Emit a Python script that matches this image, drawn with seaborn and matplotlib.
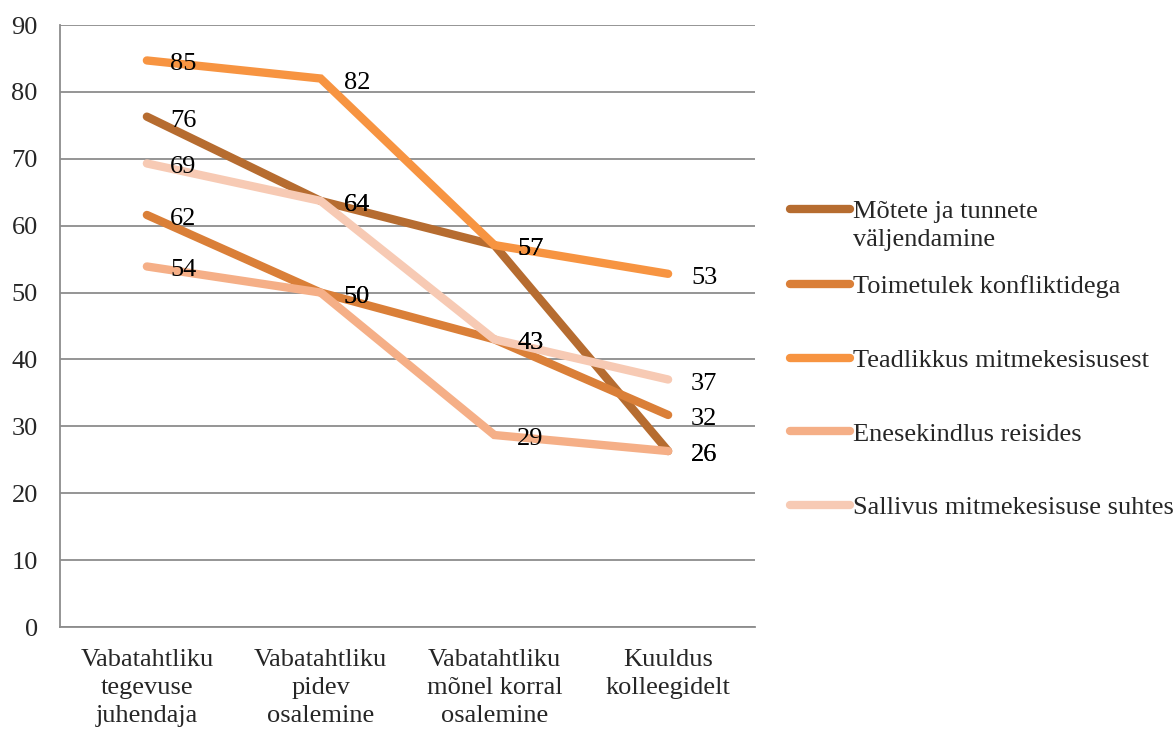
import matplotlib
matplotlib.use("Agg")
import matplotlib.pyplot as plt
import seaborn as sns
import pandas as pd
from matplotlib.transforms import offset_copy
from matplotlib.lines import Line2D
from matplotlib.legend_handler import HandlerLine2D

categories = ["Vabatahtliku\ntegevuse\njuhendaja", "Vabatahtliku\npidev\nosalemine",
              "Vabatahtliku\nmõnel korral\nosalemine", "Kuuldus\nkolleegidelt"]
series_names = ["Mõtete ja tunnete\nväljendamine", "Toimetulek konfliktidega",
                "Teadlikkus mitmekesisusest", "Enesekindlus reisides",
                "Sallivus mitmekesisuse suhtes"]
motete = [76.3, 63.7, 57.1, 26.3]
toimetulek = [61.6, 50.0, 43.0, 31.7]
teadlikkus = [84.7, 82.0, 57.1, 52.8]
enesekindlus = [53.9, 50.0, 28.7, 26.3]
sallivus = [69.3, 63.7, 43.0, 37.0]
colors = ["#B66C30", "#DA7F38", "#F79441", "#F5AF87", "#F7CAB4"]

values = [motete, toimetulek, teadlikkus, enesekindlus, sallivus]
rows = []
for name, vals in zip(series_names, values):
    for i, v in enumerate(vals):
        rows.append({"x": i, "value": v, "series": name})
df = pd.DataFrame(rows)

sns.set_style("white")
plt.rcParams["font.family"] = ["Liberation Serif", "DejaVu Serif"]
FS = 19
LW = 6

fig = plt.figure(figsize=(11.76, 7.31), dpi=100)
ax = fig.add_axes([60/1176, 1-627/731, 695/1176, 602/731])

palette = dict(zip(series_names, colors))
sns.lineplot(data=df, x="x", y="value", hue="series", palette=palette,
             hue_order=series_names, linewidth=LW, ax=ax, legend=False,
             solid_capstyle="round", solid_joinstyle="miter")

trans = offset_copy(ax.transData, fig=fig, x=23, y=-4, units="dots")
for vals in values:
    for i, v in enumerate(vals):
        ax.text(i, v, f"{v:.0f}", transform=trans, ha="left", va="center",
                fontsize=FS, color="black")

ax.set_xlim(-0.5, 3.5)
ax.set_ylim(0, 90)
ax.set_yticks(range(0, 91, 10))
ax.yaxis.grid(True, color="#8c8c8c", linewidth=1.3)
ax.set_axisbelow(True)
ax.set_xticks([0, 1, 2, 3])
ax.set_xticklabels(categories, fontsize=FS, linespacing=1.36)
ax.set_xticks([-0.5, 0.5, 1.5, 2.5, 3.5], minor=True)
ax.tick_params(axis="x", which="major", length=0, pad=16)
ax.tick_params(axis="x", which="minor", length=5, color="#8c8c8c", width=1.3, direction="out")
ax.tick_params(axis="y", length=5, color="#8c8c8c", width=1.3, labelsize=FS, pad=11)
ax.set_xlabel("")
ax.set_ylabel("")
for s in ["top", "right"]:
    ax.spines[s].set_visible(False)
for s in ["left", "bottom"]:
    ax.spines[s].set_color("#8c8c8c")
    ax.spines[s].set_linewidth(1.3)


class ShiftedLine(HandlerLine2D):
    def __init__(self, dy=0, **kw):
        super().__init__(**kw)
        self.dy = dy

    def create_artists(self, legend, orig_handle, xdescent, ydescent, width, height, fontsize, trans):
        return super().create_artists(legend, orig_handle, xdescent, ydescent - 2 * self.dy,
                                      width, height, fontsize, trans)


handles = [Line2D([], [], color=c, linewidth=LW, solid_capstyle="round") for c in colors]
common = dict(loc="upper left", frameon=False, fontsize=FS, handlelength=2.27,
              handletextpad=0.12, borderpad=0, borderaxespad=0)
legA = fig.legend(handles[:1], series_names[:1], bbox_to_anchor=(790/1176, 1-201/731),
                  handler_map={handles[0]: ShiftedLine(dy=12)}, labelspacing=0, **common)
for t in legA.get_texts():
    t.set_linespacing(1.35)
legB = fig.legend(handles[1:], series_names[1:], bbox_to_anchor=(790/1176, 1-275/731),
                  labelspacing=1.9, **common)

fig.savefig("out.png", dpi=100)
